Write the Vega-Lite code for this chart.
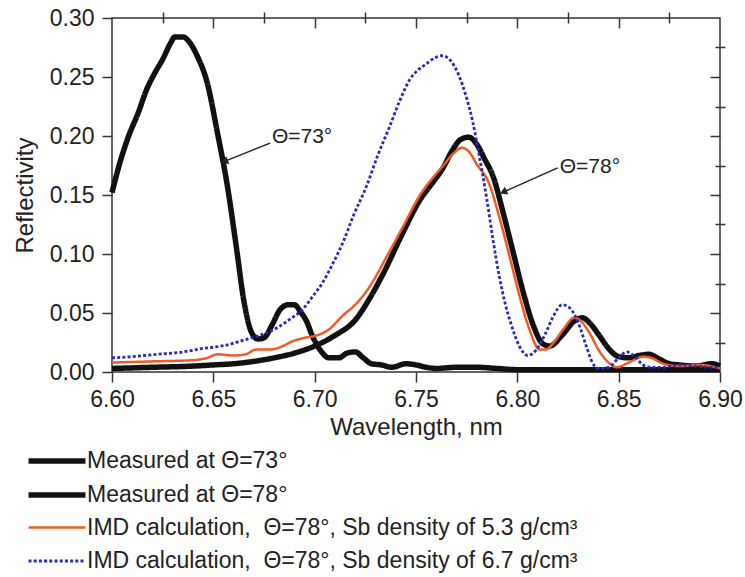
{
  "$schema": "https://vega.github.io/schema/vega-lite/v6.json",
  "width": 608,
  "height": 354,
  "autosize": {"type": "none"},
  "padding": {"left": 112, "top": 18, "right": 25, "bottom": 205},
  "background": "white",
  "config": {
    "view": {"stroke": "#333333", "strokeWidth": 1.5},
    "font": "Liberation Sans",
    "axis": {"grid": false, "domain": false, "tickColor": "#333333", "tickWidth": 1.5, "labelColor": "#222222", "titleColor": "#222222", "labelFont": "Liberation Sans", "titleFont": "Liberation Sans", "titleFontWeight": "normal"}
  },
  "datasets": {
    "curves": [
      {"series": "Measured at Θ=73°", "x": 6.600, "y": 0.152},
      {"series": "Measured at Θ=73°", "x": 6.604, "y": 0.178},
      {"series": "Measured at Θ=73°", "x": 6.608, "y": 0.199},
      {"series": "Measured at Θ=73°", "x": 6.613, "y": 0.220},
      {"series": "Measured at Θ=73°", "x": 6.617, "y": 0.239},
      {"series": "Measured at Θ=73°", "x": 6.621, "y": 0.253},
      {"series": "Measured at Θ=73°", "x": 6.625, "y": 0.265},
      {"series": "Measured at Θ=73°", "x": 6.629, "y": 0.279},
      {"series": "Measured at Θ=73°", "x": 6.631, "y": 0.284},
      {"series": "Measured at Θ=73°", "x": 6.635, "y": 0.284},
      {"series": "Measured at Θ=73°", "x": 6.638, "y": 0.280},
      {"series": "Measured at Θ=73°", "x": 6.642, "y": 0.268},
      {"series": "Measured at Θ=73°", "x": 6.647, "y": 0.245},
      {"series": "Measured at Θ=73°", "x": 6.652, "y": 0.203},
      {"series": "Measured at Θ=73°", "x": 6.657, "y": 0.157},
      {"series": "Measured at Θ=73°", "x": 6.6615, "y": 0.104},
      {"series": "Measured at Θ=73°", "x": 6.665, "y": 0.061},
      {"series": "Measured at Θ=73°", "x": 6.669, "y": 0.033},
      {"series": "Measured at Θ=73°", "x": 6.672, "y": 0.028},
      {"series": "Measured at Θ=73°", "x": 6.675, "y": 0.029},
      {"series": "Measured at Θ=73°", "x": 6.679, "y": 0.040},
      {"series": "Measured at Θ=73°", "x": 6.683, "y": 0.053},
      {"series": "Measured at Θ=73°", "x": 6.687, "y": 0.057},
      {"series": "Measured at Θ=73°", "x": 6.690, "y": 0.057},
      {"series": "Measured at Θ=73°", "x": 6.693, "y": 0.051},
      {"series": "Measured at Θ=73°", "x": 6.696, "y": 0.043},
      {"series": "Measured at Θ=73°", "x": 6.699, "y": 0.030},
      {"series": "Measured at Θ=73°", "x": 6.703, "y": 0.018},
      {"series": "Measured at Θ=73°", "x": 6.707, "y": 0.012},
      {"series": "Measured at Θ=73°", "x": 6.712, "y": 0.012},
      {"series": "Measured at Θ=73°", "x": 6.716, "y": 0.016},
      {"series": "Measured at Θ=73°", "x": 6.720, "y": 0.017},
      {"series": "Measured at Θ=73°", "x": 6.724, "y": 0.012},
      {"series": "Measured at Θ=73°", "x": 6.728, "y": 0.007},
      {"series": "Measured at Θ=73°", "x": 6.733, "y": 0.006},
      {"series": "Measured at Θ=73°", "x": 6.738, "y": 0.004},
      {"series": "Measured at Θ=73°", "x": 6.745, "y": 0.007},
      {"series": "Measured at Θ=73°", "x": 6.750, "y": 0.006},
      {"series": "Measured at Θ=73°", "x": 6.755, "y": 0.004},
      {"series": "Measured at Θ=73°", "x": 6.760, "y": 0.003},
      {"series": "Measured at Θ=73°", "x": 6.770, "y": 0.004},
      {"series": "Measured at Θ=73°", "x": 6.780, "y": 0.004},
      {"series": "Measured at Θ=73°", "x": 6.790, "y": 0.003},
      {"series": "Measured at Θ=73°", "x": 6.800, "y": 0.002},
      {"series": "Measured at Θ=73°", "x": 6.820, "y": 0.002},
      {"series": "Measured at Θ=73°", "x": 6.840, "y": 0.002},
      {"series": "Measured at Θ=73°", "x": 6.860, "y": 0.002},
      {"series": "Measured at Θ=73°", "x": 6.880, "y": 0.002},
      {"series": "Measured at Θ=73°", "x": 6.900, "y": 0.002},

      {"series": "Measured at Θ=78°", "x": 6.600, "y": 0.003},
      {"series": "Measured at Θ=78°", "x": 6.620, "y": 0.004},
      {"series": "Measured at Θ=78°", "x": 6.640, "y": 0.005},
      {"series": "Measured at Θ=78°", "x": 6.650, "y": 0.006},
      {"series": "Measured at Θ=78°", "x": 6.660, "y": 0.007},
      {"series": "Measured at Θ=78°", "x": 6.670, "y": 0.009},
      {"series": "Measured at Θ=78°", "x": 6.680, "y": 0.012},
      {"series": "Measured at Θ=78°", "x": 6.690, "y": 0.016},
      {"series": "Measured at Θ=78°", "x": 6.700, "y": 0.022},
      {"series": "Measured at Θ=78°", "x": 6.710, "y": 0.031},
      {"series": "Measured at Θ=78°", "x": 6.720, "y": 0.044},
      {"series": "Measured at Θ=78°", "x": 6.727, "y": 0.062},
      {"series": "Measured at Θ=78°", "x": 6.734, "y": 0.084},
      {"series": "Measured at Θ=78°", "x": 6.7435, "y": 0.118},
      {"series": "Measured at Θ=78°", "x": 6.752, "y": 0.146},
      {"series": "Measured at Θ=78°", "x": 6.758, "y": 0.160},
      {"series": "Measured at Θ=78°", "x": 6.763, "y": 0.172},
      {"series": "Measured at Θ=78°", "x": 6.768, "y": 0.188},
      {"series": "Measured at Θ=78°", "x": 6.772, "y": 0.197},
      {"series": "Measured at Θ=78°", "x": 6.776, "y": 0.199},
      {"series": "Measured at Θ=78°", "x": 6.780, "y": 0.193},
      {"series": "Measured at Θ=78°", "x": 6.784, "y": 0.180},
      {"series": "Measured at Θ=78°", "x": 6.788, "y": 0.166},
      {"series": "Measured at Θ=78°", "x": 6.793, "y": 0.135},
      {"series": "Measured at Θ=78°", "x": 6.798, "y": 0.101},
      {"series": "Measured at Θ=78°", "x": 6.803, "y": 0.067},
      {"series": "Measured at Θ=78°", "x": 6.808, "y": 0.039},
      {"series": "Measured at Θ=78°", "x": 6.8125, "y": 0.024},
      {"series": "Measured at Θ=78°", "x": 6.816, "y": 0.022},
      {"series": "Measured at Θ=78°", "x": 6.822, "y": 0.031},
      {"series": "Measured at Θ=78°", "x": 6.828, "y": 0.043},
      {"series": "Measured at Θ=78°", "x": 6.832, "y": 0.046},
      {"series": "Measured at Θ=78°", "x": 6.836, "y": 0.041},
      {"series": "Measured at Θ=78°", "x": 6.840, "y": 0.032},
      {"series": "Measured at Θ=78°", "x": 6.845, "y": 0.020},
      {"series": "Measured at Θ=78°", "x": 6.850, "y": 0.013},
      {"series": "Measured at Θ=78°", "x": 6.855, "y": 0.012},
      {"series": "Measured at Θ=78°", "x": 6.860, "y": 0.014},
      {"series": "Measured at Θ=78°", "x": 6.865, "y": 0.015},
      {"series": "Measured at Θ=78°", "x": 6.870, "y": 0.011},
      {"series": "Measured at Θ=78°", "x": 6.875, "y": 0.007},
      {"series": "Measured at Θ=78°", "x": 6.880, "y": 0.006},
      {"series": "Measured at Θ=78°", "x": 6.888, "y": 0.005},
      {"series": "Measured at Θ=78°", "x": 6.896, "y": 0.007},
      {"series": "Measured at Θ=78°", "x": 6.900, "y": 0.005},

      {"series": "IMD calculation,\u00a0 Θ=78°, Sb density of 5.3 g/cm³", "x": 6.600, "y": 0.008},
      {"series": "IMD calculation,\u00a0 Θ=78°, Sb density of 5.3 g/cm³", "x": 6.620, "y": 0.009},
      {"series": "IMD calculation,\u00a0 Θ=78°, Sb density of 5.3 g/cm³", "x": 6.640, "y": 0.010},
      {"series": "IMD calculation,\u00a0 Θ=78°, Sb density of 5.3 g/cm³", "x": 6.647, "y": 0.012},
      {"series": "IMD calculation,\u00a0 Θ=78°, Sb density of 5.3 g/cm³", "x": 6.652, "y": 0.015},
      {"series": "IMD calculation,\u00a0 Θ=78°, Sb density of 5.3 g/cm³", "x": 6.660, "y": 0.014},
      {"series": "IMD calculation,\u00a0 Θ=78°, Sb density of 5.3 g/cm³", "x": 6.666, "y": 0.015},
      {"series": "IMD calculation,\u00a0 Θ=78°, Sb density of 5.3 g/cm³", "x": 6.671, "y": 0.019},
      {"series": "IMD calculation,\u00a0 Θ=78°, Sb density of 5.3 g/cm³", "x": 6.678, "y": 0.019},
      {"series": "IMD calculation,\u00a0 Θ=78°, Sb density of 5.3 g/cm³", "x": 6.683, "y": 0.021},
      {"series": "IMD calculation,\u00a0 Θ=78°, Sb density of 5.3 g/cm³", "x": 6.689, "y": 0.026},
      {"series": "IMD calculation,\u00a0 Θ=78°, Sb density of 5.3 g/cm³", "x": 6.695, "y": 0.029},
      {"series": "IMD calculation,\u00a0 Θ=78°, Sb density of 5.3 g/cm³", "x": 6.701, "y": 0.031},
      {"series": "IMD calculation,\u00a0 Θ=78°, Sb density of 5.3 g/cm³", "x": 6.707, "y": 0.036},
      {"series": "IMD calculation,\u00a0 Θ=78°, Sb density of 5.3 g/cm³", "x": 6.714, "y": 0.048},
      {"series": "IMD calculation,\u00a0 Θ=78°, Sb density of 5.3 g/cm³", "x": 6.720, "y": 0.057},
      {"series": "IMD calculation,\u00a0 Θ=78°, Sb density of 5.3 g/cm³", "x": 6.727, "y": 0.072},
      {"series": "IMD calculation,\u00a0 Θ=78°, Sb density of 5.3 g/cm³", "x": 6.735, "y": 0.096},
      {"series": "IMD calculation,\u00a0 Θ=78°, Sb density of 5.3 g/cm³", "x": 6.7435, "y": 0.123},
      {"series": "IMD calculation,\u00a0 Θ=78°, Sb density of 5.3 g/cm³", "x": 6.752, "y": 0.150},
      {"series": "IMD calculation,\u00a0 Θ=78°, Sb density of 5.3 g/cm³", "x": 6.758, "y": 0.164},
      {"series": "IMD calculation,\u00a0 Θ=78°, Sb density of 5.3 g/cm³", "x": 6.763, "y": 0.174},
      {"series": "IMD calculation,\u00a0 Θ=78°, Sb density of 5.3 g/cm³", "x": 6.769, "y": 0.186},
      {"series": "IMD calculation,\u00a0 Θ=78°, Sb density of 5.3 g/cm³", "x": 6.7725, "y": 0.190},
      {"series": "IMD calculation,\u00a0 Θ=78°, Sb density of 5.3 g/cm³", "x": 6.776, "y": 0.187},
      {"series": "IMD calculation,\u00a0 Θ=78°, Sb density of 5.3 g/cm³", "x": 6.780, "y": 0.176},
      {"series": "IMD calculation,\u00a0 Θ=78°, Sb density of 5.3 g/cm³", "x": 6.786, "y": 0.160},
      {"series": "IMD calculation,\u00a0 Θ=78°, Sb density of 5.3 g/cm³", "x": 6.791, "y": 0.132},
      {"series": "IMD calculation,\u00a0 Θ=78°, Sb density of 5.3 g/cm³", "x": 6.796, "y": 0.099},
      {"series": "IMD calculation,\u00a0 Θ=78°, Sb density of 5.3 g/cm³", "x": 6.801, "y": 0.065},
      {"series": "IMD calculation,\u00a0 Θ=78°, Sb density of 5.3 g/cm³", "x": 6.806, "y": 0.036},
      {"series": "IMD calculation,\u00a0 Θ=78°, Sb density of 5.3 g/cm³", "x": 6.811, "y": 0.019},
      {"series": "IMD calculation,\u00a0 Θ=78°, Sb density of 5.3 g/cm³", "x": 6.814, "y": 0.019},
      {"series": "IMD calculation,\u00a0 Θ=78°, Sb density of 5.3 g/cm³", "x": 6.818, "y": 0.025},
      {"series": "IMD calculation,\u00a0 Θ=78°, Sb density of 5.3 g/cm³", "x": 6.823, "y": 0.037},
      {"series": "IMD calculation,\u00a0 Θ=78°, Sb density of 5.3 g/cm³", "x": 6.828, "y": 0.046},
      {"series": "IMD calculation,\u00a0 Θ=78°, Sb density of 5.3 g/cm³", "x": 6.832, "y": 0.042},
      {"series": "IMD calculation,\u00a0 Θ=78°, Sb density of 5.3 g/cm³", "x": 6.836, "y": 0.032},
      {"series": "IMD calculation,\u00a0 Θ=78°, Sb density of 5.3 g/cm³", "x": 6.840, "y": 0.019},
      {"series": "IMD calculation,\u00a0 Θ=78°, Sb density of 5.3 g/cm³", "x": 6.845, "y": 0.008},
      {"series": "IMD calculation,\u00a0 Θ=78°, Sb density of 5.3 g/cm³", "x": 6.849, "y": 0.004},
      {"series": "IMD calculation,\u00a0 Θ=78°, Sb density of 5.3 g/cm³", "x": 6.855, "y": 0.008},
      {"series": "IMD calculation,\u00a0 Θ=78°, Sb density of 5.3 g/cm³", "x": 6.862, "y": 0.013},
      {"series": "IMD calculation,\u00a0 Θ=78°, Sb density of 5.3 g/cm³", "x": 6.866, "y": 0.012},
      {"series": "IMD calculation,\u00a0 Θ=78°, Sb density of 5.3 g/cm³", "x": 6.872, "y": 0.007},
      {"series": "IMD calculation,\u00a0 Θ=78°, Sb density of 5.3 g/cm³", "x": 6.880, "y": 0.005},
      {"series": "IMD calculation,\u00a0 Θ=78°, Sb density of 5.3 g/cm³", "x": 6.890, "y": 0.006},
      {"series": "IMD calculation,\u00a0 Θ=78°, Sb density of 5.3 g/cm³", "x": 6.900, "y": 0.003},

      {"series": "IMD calculation,\u00a0 Θ=78°, Sb density of 6.7 g/cm³", "x": 6.600, "y": 0.012},
      {"series": "IMD calculation,\u00a0 Θ=78°, Sb density of 6.7 g/cm³", "x": 6.610, "y": 0.013},
      {"series": "IMD calculation,\u00a0 Θ=78°, Sb density of 6.7 g/cm³", "x": 6.622, "y": 0.015},
      {"series": "IMD calculation,\u00a0 Θ=78°, Sb density of 6.7 g/cm³", "x": 6.635, "y": 0.017},
      {"series": "IMD calculation,\u00a0 Θ=78°, Sb density of 6.7 g/cm³", "x": 6.645, "y": 0.020},
      {"series": "IMD calculation,\u00a0 Θ=78°, Sb density of 6.7 g/cm³", "x": 6.650, "y": 0.021},
      {"series": "IMD calculation,\u00a0 Θ=78°, Sb density of 6.7 g/cm³", "x": 6.657, "y": 0.023},
      {"series": "IMD calculation,\u00a0 Θ=78°, Sb density of 6.7 g/cm³", "x": 6.663, "y": 0.026},
      {"series": "IMD calculation,\u00a0 Θ=78°, Sb density of 6.7 g/cm³", "x": 6.669, "y": 0.029},
      {"series": "IMD calculation,\u00a0 Θ=78°, Sb density of 6.7 g/cm³", "x": 6.676, "y": 0.033},
      {"series": "IMD calculation,\u00a0 Θ=78°, Sb density of 6.7 g/cm³", "x": 6.682, "y": 0.038},
      {"series": "IMD calculation,\u00a0 Θ=78°, Sb density of 6.7 g/cm³", "x": 6.688, "y": 0.045},
      {"series": "IMD calculation,\u00a0 Θ=78°, Sb density of 6.7 g/cm³", "x": 6.694, "y": 0.053},
      {"series": "IMD calculation,\u00a0 Θ=78°, Sb density of 6.7 g/cm³", "x": 6.699, "y": 0.064},
      {"series": "IMD calculation,\u00a0 Θ=78°, Sb density of 6.7 g/cm³", "x": 6.704, "y": 0.076},
      {"series": "IMD calculation,\u00a0 Θ=78°, Sb density of 6.7 g/cm³", "x": 6.709, "y": 0.092},
      {"series": "IMD calculation,\u00a0 Θ=78°, Sb density of 6.7 g/cm³", "x": 6.714, "y": 0.110},
      {"series": "IMD calculation,\u00a0 Θ=78°, Sb density of 6.7 g/cm³", "x": 6.719, "y": 0.132},
      {"series": "IMD calculation,\u00a0 Θ=78°, Sb density of 6.7 g/cm³", "x": 6.7257, "y": 0.158},
      {"series": "IMD calculation,\u00a0 Θ=78°, Sb density of 6.7 g/cm³", "x": 6.731, "y": 0.183},
      {"series": "IMD calculation,\u00a0 Θ=78°, Sb density of 6.7 g/cm³", "x": 6.737, "y": 0.208},
      {"series": "IMD calculation,\u00a0 Θ=78°, Sb density of 6.7 g/cm³", "x": 6.742, "y": 0.230},
      {"series": "IMD calculation,\u00a0 Θ=78°, Sb density of 6.7 g/cm³", "x": 6.747, "y": 0.248},
      {"series": "IMD calculation,\u00a0 Θ=78°, Sb density of 6.7 g/cm³", "x": 6.751, "y": 0.256},
      {"series": "IMD calculation,\u00a0 Θ=78°, Sb density of 6.7 g/cm³", "x": 6.755, "y": 0.261},
      {"series": "IMD calculation,\u00a0 Θ=78°, Sb density of 6.7 g/cm³", "x": 6.759, "y": 0.266},
      {"series": "IMD calculation,\u00a0 Θ=78°, Sb density of 6.7 g/cm³", "x": 6.763, "y": 0.268},
      {"series": "IMD calculation,\u00a0 Θ=78°, Sb density of 6.7 g/cm³", "x": 6.767, "y": 0.264},
      {"series": "IMD calculation,\u00a0 Θ=78°, Sb density of 6.7 g/cm³", "x": 6.771, "y": 0.252},
      {"series": "IMD calculation,\u00a0 Θ=78°, Sb density of 6.7 g/cm³", "x": 6.775, "y": 0.232},
      {"series": "IMD calculation,\u00a0 Θ=78°, Sb density of 6.7 g/cm³", "x": 6.778, "y": 0.212},
      {"series": "IMD calculation,\u00a0 Θ=78°, Sb density of 6.7 g/cm³", "x": 6.781, "y": 0.185},
      {"series": "IMD calculation,\u00a0 Θ=78°, Sb density of 6.7 g/cm³", "x": 6.785, "y": 0.146},
      {"series": "IMD calculation,\u00a0 Θ=78°, Sb density of 6.7 g/cm³", "x": 6.788, "y": 0.112},
      {"series": "IMD calculation,\u00a0 Θ=78°, Sb density of 6.7 g/cm³", "x": 6.791, "y": 0.082},
      {"series": "IMD calculation,\u00a0 Θ=78°, Sb density of 6.7 g/cm³", "x": 6.794, "y": 0.058},
      {"series": "IMD calculation,\u00a0 Θ=78°, Sb density of 6.7 g/cm³", "x": 6.797, "y": 0.040},
      {"series": "IMD calculation,\u00a0 Θ=78°, Sb density of 6.7 g/cm³", "x": 6.801, "y": 0.022},
      {"series": "IMD calculation,\u00a0 Θ=78°, Sb density of 6.7 g/cm³", "x": 6.805, "y": 0.014},
      {"series": "IMD calculation,\u00a0 Θ=78°, Sb density of 6.7 g/cm³", "x": 6.809, "y": 0.018},
      {"series": "IMD calculation,\u00a0 Θ=78°, Sb density of 6.7 g/cm³", "x": 6.814, "y": 0.033},
      {"series": "IMD calculation,\u00a0 Θ=78°, Sb density of 6.7 g/cm³", "x": 6.818, "y": 0.048},
      {"series": "IMD calculation,\u00a0 Θ=78°, Sb density of 6.7 g/cm³", "x": 6.822, "y": 0.057},
      {"series": "IMD calculation,\u00a0 Θ=78°, Sb density of 6.7 g/cm³", "x": 6.826, "y": 0.054},
      {"series": "IMD calculation,\u00a0 Θ=78°, Sb density of 6.7 g/cm³", "x": 6.830, "y": 0.042},
      {"series": "IMD calculation,\u00a0 Θ=78°, Sb density of 6.7 g/cm³", "x": 6.834, "y": 0.022},
      {"series": "IMD calculation,\u00a0 Θ=78°, Sb density of 6.7 g/cm³", "x": 6.837, "y": 0.008},
      {"series": "IMD calculation,\u00a0 Θ=78°, Sb density of 6.7 g/cm³", "x": 6.840, "y": 0.003},
      {"series": "IMD calculation,\u00a0 Θ=78°, Sb density of 6.7 g/cm³", "x": 6.845, "y": 0.004},
      {"series": "IMD calculation,\u00a0 Θ=78°, Sb density of 6.7 g/cm³", "x": 6.850, "y": 0.012},
      {"series": "IMD calculation,\u00a0 Θ=78°, Sb density of 6.7 g/cm³", "x": 6.854, "y": 0.017},
      {"series": "IMD calculation,\u00a0 Θ=78°, Sb density of 6.7 g/cm³", "x": 6.858, "y": 0.013},
      {"series": "IMD calculation,\u00a0 Θ=78°, Sb density of 6.7 g/cm³", "x": 6.862, "y": 0.006},
      {"series": "IMD calculation,\u00a0 Θ=78°, Sb density of 6.7 g/cm³", "x": 6.866, "y": 0.004},
      {"series": "IMD calculation,\u00a0 Θ=78°, Sb density of 6.7 g/cm³", "x": 6.872, "y": 0.004},
      {"series": "IMD calculation,\u00a0 Θ=78°, Sb density of 6.7 g/cm³", "x": 6.880, "y": 0.006},
      {"series": "IMD calculation,\u00a0 Θ=78°, Sb density of 6.7 g/cm³", "x": 6.888, "y": 0.005},
      {"series": "IMD calculation,\u00a0 Θ=78°, Sb density of 6.7 g/cm³", "x": 6.895, "y": 0.004},
      {"series": "IMD calculation,\u00a0 Θ=78°, Sb density of 6.7 g/cm³", "x": 6.900, "y": 0.004}
    ],
    "notes": [
      {"label": "Θ=73°", "tx": 6.6789, "ty": 0.199, "x1": 6.678, "y1": 0.194, "x2": 6.6555, "y2": 0.1785, "angle": 248},
      {"label": "Θ=78°", "tx": 6.8209, "ty": 0.174, "x1": 6.8199, "y1": 0.173, "x2": 6.7931, "y2": 0.1525, "angle": 246}
    ],
    "frame": [{"x": 6.6, "y": 0}]
  },
  "layer": [
    {
      "data": {"name": "curves"},
      "mark": {"type": "line", "interpolate": "monotone"},
      "encoding": {
        "x": {"field": "x", "type": "quantitative", "scale": {"domain": [6.6, 6.9], "nice": false, "zero": false},
          "axis": {"values": [6.6, 6.65, 6.7, 6.75, 6.8, 6.85, 6.9], "format": ".2f", "tickSize": 10, "labelFontSize": 23, "labelPadding": 6, "title": "Wavelength, nm", "titleFontSize": 24, "titlePadding": 4, "labelFlush": false}},
        "y": {"field": "y", "type": "quantitative", "scale": {"domain": [0, 0.3], "nice": false},
          "axis": {"values": [0, 0.05, 0.1, 0.15, 0.2, 0.25, 0.3], "format": ".2f", "tickSize": 10, "labelFontSize": 23, "labelPadding": 8, "title": "Reflectivity", "titleFontSize": 24, "titlePadding": 12, "labelFlush": false}},
        "color": {"field": "series", "type": "nominal",
          "scale": {"domain": ["Measured at Θ=73°", "Measured at Θ=78°", "IMD calculation,\u00a0 Θ=78°, Sb density of 5.3 g/cm³", "IMD calculation,\u00a0 Θ=78°, Sb density of 6.7 g/cm³"],
            "range": ["#111111", "#111111", "#f05a24", "#2a2ab5"]},
          "legend": {"orient": "none", "legendX": -72, "legendY": 426, "title": null, "symbolType": "M-2,0H2", "symbolSize": 812, "labelFontSize": 23, "labelFont": "Liberation Sans", "labelColor": "#222222", "labelLimit": 700, "labelOffset": 13, "rowPadding": 5,
            "encode": {"symbols": {"update": {"strokeWidth": {"scale": "strokeWidth", "field": "value"}, "strokeDash": {"scale": "strokeDash", "field": "value"}}}}}},
        "strokeDash": {"field": "series", "type": "nominal",
          "scale": {"domain": ["Measured at Θ=73°", "Measured at Θ=78°", "IMD calculation,\u00a0 Θ=78°, Sb density of 5.3 g/cm³", "IMD calculation,\u00a0 Θ=78°, Sb density of 6.7 g/cm³"],
            "range": [[1, 0], [1, 0], [1, 0], [3, 2.2]]}},
        "strokeWidth": {"field": "series", "type": "nominal",
          "scale": {"type": "ordinal", "domain": ["Measured at Θ=73°", "Measured at Θ=78°", "IMD calculation,\u00a0 Θ=78°, Sb density of 5.3 g/cm³", "IMD calculation,\u00a0 Θ=78°, Sb density of 6.7 g/cm³"],
            "range": [5.5, 5.5, 2.5, 2.8]}}
      }
    },
    {
      "data": {"name": "frame"},
      "mark": {"type": "point", "opacity": 0},
      "encoding": {
        "x": {"field": "x", "type": "quantitative", "axis": {"values": [6.625, 6.675, 6.725, 6.775, 6.825, 6.875], "tickSize": 6, "labels": false, "title": null}},
        "y": {"field": "y", "type": "quantitative", "axis": {"values": [0.025, 0.075, 0.125, 0.175, 0.225, 0.275], "tickSize": 5, "labels": false, "title": null}}
      }
    },
    {
      "data": {"name": "frame"},
      "mark": {"type": "point", "opacity": 0},
      "encoding": {
        "x": {"field": "x", "type": "quantitative", "axis": {"orient": "top", "values": [6.65, 6.7, 6.75, 6.8, 6.85], "tickSize": -10, "labels": false, "title": null}},
        "y": {"field": "y", "type": "quantitative", "axis": {"orient": "right", "values": [0.05, 0.1, 0.15, 0.2, 0.25], "tickSize": -10, "labels": false, "title": null}}
      }
    },
    {
      "data": {"name": "frame"},
      "mark": {"type": "point", "opacity": 0},
      "encoding": {
        "x": {"field": "x", "type": "quantitative", "axis": {"orient": "top", "values": [6.625, 6.675, 6.725, 6.775, 6.825, 6.875], "tickSize": -5, "labels": false, "title": null}},
        "y": {"field": "y", "type": "quantitative", "axis": {"orient": "right", "values": [0.025, 0.075, 0.125, 0.175, 0.225, 0.275], "tickSize": -5, "labels": false, "title": null}}
      }
    },
    {
      "data": {"name": "notes"},
      "mark": {"type": "rule", "color": "#222222", "strokeWidth": 1.5},
      "encoding": {
        "x": {"field": "x1", "type": "quantitative", "axis": null},
        "y": {"field": "y1", "type": "quantitative", "axis": null},
        "x2": {"field": "x2"},
        "y2": {"field": "y2"}
      }
    },
    {
      "data": {"name": "notes"},
      "mark": {"type": "point", "shape": "triangle-up", "filled": true, "color": "#222222", "size": 70, "opacity": 1},
      "encoding": {
        "x": {"field": "x2", "type": "quantitative", "axis": null},
        "y": {"field": "y2", "type": "quantitative", "axis": null},
        "angle": {"field": "angle", "type": "quantitative", "scale": null}
      }
    },
    {
      "data": {"name": "notes"},
      "mark": {"type": "text", "align": "left", "baseline": "middle", "fontSize": 21, "font": "Liberation Sans", "color": "#222222"},
      "encoding": {
        "x": {"field": "tx", "type": "quantitative", "axis": null},
        "y": {"field": "ty", "type": "quantitative", "axis": null},
        "text": {"field": "label"}
      }
    }
  ],
  "resolve": {"axis": {"x": "independent", "y": "independent"}}
}
